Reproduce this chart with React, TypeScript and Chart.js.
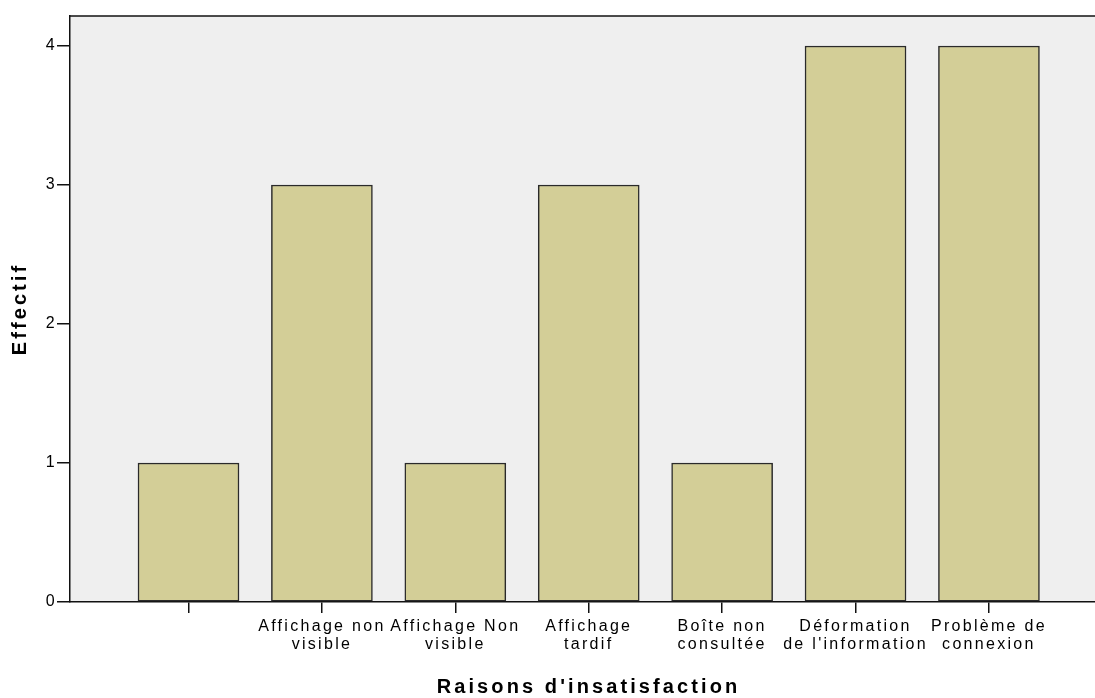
import React, { useEffect, useRef } from 'react';
import { Chart, registerables } from 'chart.js';

Chart.register(...registerables);

const categories: (string | string[])[] = [
  '',
  ['Affichage non', 'visible'],
  ['Affichage Non', 'visible'],
  ['Affichage', 'tardif'],
  ['Boîte non', 'consultée'],
  ['Déformation', "de l'information"],
  ['Problème de', 'connexion'],
];
const counts = [1, 3, 1, 3, 1, 4, 4];
const yTicks = [0, 1, 2, 3, 4];
const xTitle = "Raisons d'insatisfaction";
const yTitle = 'Effectif';

const FONT = 'Arial, "Liberation Sans", sans-serif';

export default function App() {
  const ref = useRef<HTMLCanvasElement | null>(null);

  useEffect(() => {
    if (!ref.current) return;
    const deco = {
      id: 'deco',
      beforeDraw(chart: any) {
        const { ctx, chartArea } = chart;
        ctx.save();
        ctx.fillStyle = '#EFEFEF';
        ctx.fillRect(chartArea.left, chartArea.top, chartArea.right - chartArea.left, chartArea.bottom - chartArea.top);
        ctx.restore();
        (ctx as any).letterSpacing = '2.3px';
      },
      afterDraw(chart: any) {
        const { ctx, chartArea } = chart;
        ctx.save();
        ctx.strokeStyle = '#111';
        ctx.lineWidth = 1.5;
        ctx.beginPath();
        ctx.moveTo(chartArea.left, chartArea.top);
        ctx.lineTo(chartArea.right, chartArea.top);
        ctx.stroke();
        (ctx as any).letterSpacing = '3.1px';
        ctx.fillStyle = '#000';
        ctx.font = `bold 20px ${FONT}`;
        ctx.textAlign = 'center';
        ctx.textBaseline = 'alphabetic';
        ctx.fillText(xTitle, (chartArea.left + chartArea.right) / 2 + 6, 693);
        ctx.translate(26, (chartArea.top + chartArea.bottom) / 2);
        ctx.rotate(-Math.PI / 2);
        ctx.fillText(yTitle, 0, 0);
        ctx.restore();
        (ctx as any).letterSpacing = '0px';
      },
    };

    const chart = new Chart(ref.current, {
      type: 'bar',
      data: {
        datasets: [
          {
            data: counts.map((c, i) => ({ x: i + 1, y: c })),
            backgroundColor: '#D3CE97',
            borderColor: '#2a2a2a',
            borderWidth: 1.5,
            borderSkipped: false,
            barThickness: 101,
          },
        ],
      },
      options: {
        animation: false,
        responsive: false,
        layout: { padding: { top: 16, left: 0, right: 0, bottom: 0 } },
        plugins: { legend: { display: false }, tooltip: { enabled: false } },
        scales: {
          x: {
            type: 'linear',
            offset: false,
            bounds: 'data',
            min: 0.1117,
            max: 7.795,
            afterBuildTicks: (axis: any) => {
              axis.ticks = categories.map((_, i) => ({ value: i + 1 }));
            },
            afterFit: (scale: any) => {
              scale.height = 96;
            },
            grid: { display: true, offset: false, drawOnChartArea: false, drawTicks: true, tickLength: 11, color: '#111', lineWidth: 1.5 },
            border: { display: true, color: '#111', width: 1.5 },
            ticks: {
              autoSkip: false,
              maxRotation: 0,
              minRotation: 0,
              padding: 5,
              color: '#000',
              font: { family: FONT, size: 16, lineHeight: 1.1 },
              callback: (v: any) => categories[Math.round(v) - 1] ?? '',
            },
          },
          y: {
            type: 'linear',
            bounds: 'data',
            min: 0,
            max: 4.216,
            afterBuildTicks: (axis: any) => {
              axis.ticks = yTicks.map((v) => ({ value: v }));
            },
            afterFit: (scale: any) => {
              scale.width = 70;
            },
            grid: { display: true, drawOnChartArea: false, drawTicks: true, tickLength: 13, color: '#111', lineWidth: 1.5 },
            border: { display: true, color: '#111', width: 1.5 },
            ticks: {
              padding: 0,
              color: '#000',
              font: { family: FONT, size: 16 },
              callback: (v: any) => String(v),
            },
          },
        },
      },
      plugins: [deco],
    } as any);
    return () => chart.destroy();
  }, []);

  return (
    <div style={{ position: 'absolute', left: 0, top: 0, width: 1095, height: 698, background: '#fff' }}>
      <canvas ref={ref} width={1095} height={698} />
    </div>
  );
}
